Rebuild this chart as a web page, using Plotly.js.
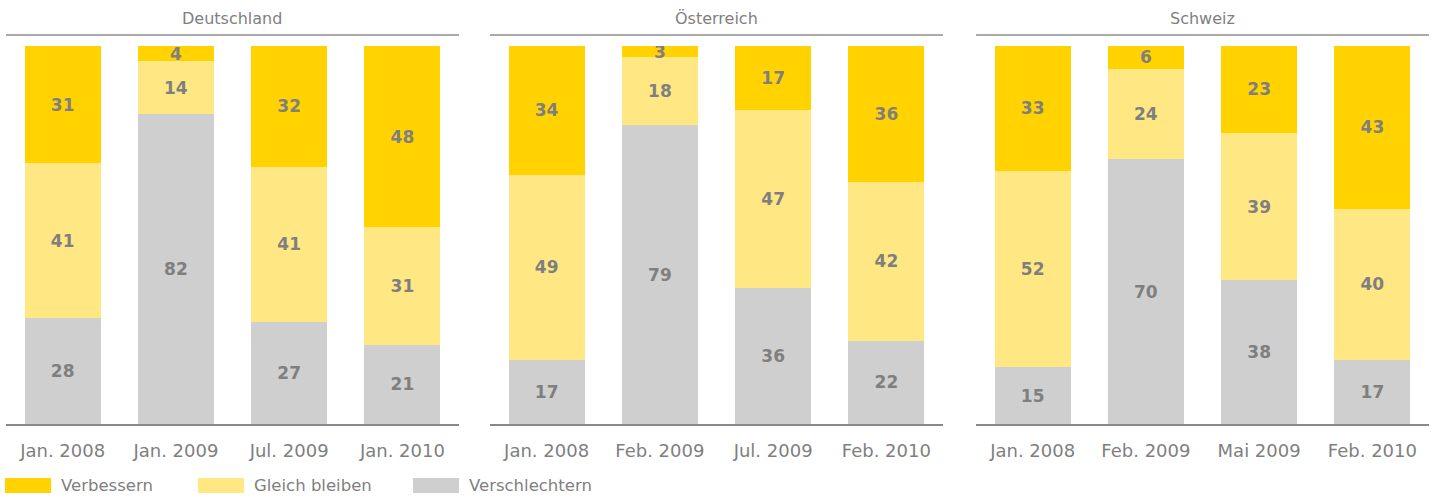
<!DOCTYPE html>
<html>
<head>
<meta charset="utf-8">
<script src="https://cdn.plot.ly/plotly-3.0.1.min.js"></script>
<style>html,body{margin:0;padding:0;background:#fff;}#chart{width:1438px;height:498px;}</style>
</head>
<body>
<div id="chart"></div>
<script>
// ---- data ----
const panelTitles = ["Deutschland", "Österreich", "Schweiz"];
const seriesNames = ["Verbessern", "Gleich bleiben", "Verschlechtern"];

const catsDE = ["Jan. 2008", "Jan. 2009", "Jul. 2009", "Jan. 2010"];
const verbessernDE = [31, 4, 32, 48];
const gleichDE = [41, 14, 41, 31];
const verschlechternDE = [28, 82, 27, 21];

const catsAT = ["Jan. 2008", "Feb. 2009", "Jul. 2009", "Feb. 2010"];
const verbessernAT = [34, 3, 17, 36];
const gleichAT = [49, 18, 47, 42];
const verschlechternAT = [17, 79, 36, 22];

const catsCH = ["Jan. 2008", "Feb. 2009", "Mai 2009", "Feb. 2010"];
const verbessernCH = [33, 6, 23, 43];
const gleichCH = [52, 24, 39, 40];
const verschlechternCH = [15, 70, 38, 17];

// ---- styles ----
const W = 1438, H = 498;
const colors = {"Verbessern": "#FFD200", "Gleich bleiben": "#FFE784", "Verschlechtern": "#CFCFCF"};
const textGrey = "#7f7f7f";
const FONT = "DejaVu Sans, sans-serif";

const panels = [
  {cats: catsDE, v: verbessernDE, g: gleichDE, s: verschlechternDE, px: [6, 459]},
  {cats: catsAT, v: verbessernAT, g: gleichAT, s: verschlechternAT, px: [490, 943]},
  {cats: catsCH, v: verbessernCH, g: gleichCH, s: verschlechternCH, px: [976, 1429]}
];

const yTop = 46, yBot = 424;
const yDomain = [(H - yBot) / H, (H - yTop) / H];

const traces = [];
const layout = {
  width: W, height: H,
  margin: {l: 0, r: 0, t: 0, b: 0},
  paper_bgcolor: "#fff", plot_bgcolor: "#fff",
  barmode: "stack",
  showlegend: false,
  font: {family: FONT, color: textGrey},
  uniformtext: {mode: "show", minsize: 17},
  shapes: [], annotations: []
};

panels.forEach((p, i) => {
  const xa = i === 0 ? "x" : "x" + (i + 1);
  const ya = i === 0 ? "y" : "y" + (i + 1);
  const stacks = [[seriesNames[2], p.s], [seriesNames[1], p.g], [seriesNames[0], p.v]];
  stacks.forEach(([name, vals]) => {
    traces.push({
      type: "bar", x: p.cats, y: vals, name: name,
      xaxis: xa, yaxis: ya,
      width: 0.671,
      marker: {color: colors[name], line: {width: 0}},
      text: vals.map(String),
      textposition: "inside",
      insidetextanchor: "middle",
      textangle: 0,
      constraintext: "none",
      textfont: {family: FONT, size: 17, color: textGrey, weight: "bold"},
      hoverinfo: "skip"
    });
  });
  const dom = [p.px[0] / W, p.px[1] / W];
  layout["xaxis" + (i === 0 ? "" : i + 1)] = {
    domain: dom, anchor: ya, type: "category", range: [-0.5, 3.5],
    showline: true, linecolor: "#888888", linewidth: 1.5,
    showgrid: false, zeroline: false,
    ticks: "outside", ticklen: 10, tickcolor: "rgba(0,0,0,0)",
    tickfont: {family: FONT, size: 18, color: textGrey},
    fixedrange: true
  };
  layout["yaxis" + (i === 0 ? "" : i + 1)] = {
    domain: yDomain, anchor: xa, range: [0, 100],
    visible: false, showgrid: false, zeroline: false, fixedrange: true
  };
  // title line
  layout.shapes.push({
    type: "line", xref: "paper", yref: "paper",
    x0: dom[0], x1: dom[1], y0: (H - 35) / H, y1: (H - 35) / H,
    line: {color: "#aaaaaa", width: 2}
  });
  layout.annotations.push({
    text: panelTitles[i], xref: "paper", yref: "paper",
    x: (dom[0] + dom[1]) / 2, y: (H - 18) / H, xanchor: "center", yanchor: "middle",
    showarrow: false, font: {family: FONT, size: 16, color: textGrey}
  });
});

// manual legend
const legendPos = [[5, 59], [198, 252], [413, 467]];
seriesNames.forEach((name, k) => {
  const [x0, tx] = legendPos[k];
  layout.shapes.push({
    type: "rect", xref: "paper", yref: "paper",
    x0: x0 / W, x1: (x0 + 46) / W, y0: (H - 493) / H, y1: (H - 478) / H,
    fillcolor: colors[name], line: {width: 0}
  });
  layout.annotations.push({
    text: name, xref: "paper", yref: "paper",
    x: tx / W, y: (H - 485.5) / H, xanchor: "left", yanchor: "middle",
    showarrow: false, font: {family: FONT, size: 16.5, color: textGrey}
  });
});

Plotly.newPlot("chart", traces, layout, {displayModeBar: false, staticPlot: true});
</script>
</body>
</html>
